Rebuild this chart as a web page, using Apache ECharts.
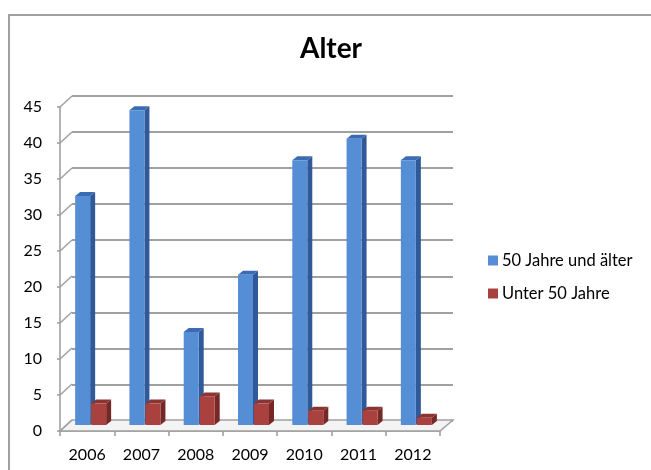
<!DOCTYPE html>
<html lang="de">
<head>
<meta charset="UTF-8">
<title>Alter</title>
<script src="https://cdn.jsdelivr.net/npm/echarts@6/dist/echarts.min.js"></script>
<style>
  html, body { margin: 0; padding: 0; background: #fff; }
  #chart { width: 651px; height: 470px; }
</style>
</head>
<body>
<div id="chart"></div>
<script>
// Daten
var jahre = ['2006', '2007', '2008', '2009', '2010', '2011', '2012'];
var ab50 = [32, 44, 13, 21, 37, 40, 37];      // 50 Jahre und älter
var unter50 = [3, 3, 4, 3, 2, 2, 1];          // Unter 50 Jahre
var yTicks = [0, 5, 10, 15, 20, 25, 30, 35, 40, 45];

var FONT = 'Lato, "Open Sans", sans-serif';
var DX = 12, DY = -11;   // Versatz Rückwand

// 3D-Säule: Vorderseite, Seite, Deckel
function saeule(off, farben) {
    return function (params, api) {
        var c = api.value(0), v = api.value(1);
        var unten = api.coord([c, 0]);
        var oben = api.coord([c, v]);
        var x0 = unten[0] + off, x1 = x0 + 15;
        var yb = unten[1], yt = oben[1];
        var d = 5, h = 4;
        return {
            type: 'group',
            children: [
                { type: 'polygon', shape: { points: [[x1, yt], [x1 + d, yt - h], [x1 + d, yb - h], [x1, yb]] },
                  style: { fill: farben[1] } },
                { type: 'polygon', shape: { points: [[x0, yt], [x1, yt], [x1 + d, yt - h], [x0 + d, yt - h]] },
                  style: { fill: farben[2] } },
                { type: 'rect', shape: { x: x0, y: yt, width: x1 - x0, height: yb - yt },
                  style: { fill: farben[0] } }
            ]
        };
    };
}

var chart = echarts.init(document.getElementById('chart'));
chart.setOption({
    backgroundColor: '#fff',
    animation: false,
    title: {
        text: 'Alter', left: 326, top: 30, textAlign: 'center',
        textStyle: { fontFamily: FONT, fontSize: 28, fontWeight: 'bold', color: '#000' }
    },
    legend: {
        orient: 'vertical', left: 483, top: 247, itemWidth: 10, itemHeight: 10, itemGap: 16,
        icon: 'rect',
        textStyle: { fontFamily: FONT, fontSize: 16.5, color: '#000', padding: [0, 0, 0, -1] },
        data: ['50 Jahre und älter', 'Unter 50 Jahre']
    },
    graphic: [{
        type: 'polyline', silent: true,
        shape: { points: [[9, 480], [9, 15], [660, 15]] },
        style: { stroke: '#a0a0a0', lineWidth: 2, fill: null }
    }],
    grid: [
        { left: 60, top: 107, width: 380, height: 324 },        // vorne (Achsen)
        { left: 72, top: 96, width: 381, height: 324.5 },       // Rückwand
        { left: 60, top: 103, width: 380, height: 322 }         // Säulen
    ],
    xAxis: [
        { gridIndex: 0, type: 'category', data: jahre, boundaryGap: true,
          axisLine: { lineStyle: { color: '#9a9a9a', width: 1.5 } },
          axisTick: { show: true, length: 5, lineStyle: { color: '#9a9a9a', width: 1.5 } },
          axisLabel: { margin: 16, fontFamily: FONT, fontSize: 16, color: '#000' } },
        { gridIndex: 1, type: 'category', data: jahre, show: false },
        { gridIndex: 2, type: 'category', data: jahre, show: false }
    ],
    yAxis: [
        { gridIndex: 0, type: 'value', min: 0, max: 45, interval: 5,
          axisLine: { show: true, lineStyle: { color: '#9a9a9a', width: 1.5 } },
          axisTick: { show: true, length: 3, lineStyle: { color: '#9a9a9a', width: 1.5 } },
          splitLine: { show: false },
          axisLabel: { margin: 18, fontFamily: FONT, fontSize: 16, color: '#000' } },
        { gridIndex: 1, type: 'value', min: 0, max: 45, interval: 5,
          axisLine: { show: false }, axisTick: { show: false }, axisLabel: { show: false },
          splitLine: { lineStyle: { color: '#a0a0a0', width: 2 } } },
        { gridIndex: 2, type: 'value', min: 0, max: 45, show: false, splitLine: { show: false } }
    ],
    series: [
        {   // Boden
            type: 'custom', xAxisIndex: 0, yAxisIndex: 0, silent: true, clip: false, z: 1,
            data: [[0, 0]],
            renderItem: function (params, api) {
                var w = api.size([1, 0])[0];
                var a = api.coord([0, 0]), b = api.coord([jahre.length - 1, 0]);
                var xl = a[0] - w / 2, xr = b[0] + w / 2, y = a[1];
                return { type: 'polygon',
                    shape: { points: [[xl, y], [xr, y], [xr + DX + 1, y + DY], [xl + DX, y + DY]] },
                    style: { fill: '#f3f3f3', stroke: '#a0a0a0', lineWidth: 1.5 } };
            }
        },
        {   // Verbindung Achse -> Rückwand
            type: 'custom', xAxisIndex: 0, yAxisIndex: 0, silent: true, clip: false, z: 1,
            data: yTicks.map(function (t) { return [0, t]; }),
            renderItem: function (params, api) {
                var w = api.size([1, 0])[0];
                var p = api.coord([0, api.value(1)]);
                var x = p[0] - w / 2;
                return { type: 'line', shape: { x1: x, y1: p[1], x2: x + DX, y2: p[1] + DY },
                         style: { stroke: '#a0a0a0', lineWidth: 1.5 } };
            }
        },
        {
            name: '50 Jahre und älter', type: 'custom', xAxisIndex: 2, yAxisIndex: 2, clip: false, z: 3,
            itemStyle: { color: '#558ed5' },
            data: ab50.map(function (v, i) { return [i, v]; }),
            renderItem: saeule(-12, ['#558ed5', '#30599a', '#3b6cb3'])
        },
        {
            name: 'Unter 50 Jahre', type: 'custom', xAxisIndex: 2, yAxisIndex: 2, clip: false, z: 4,
            itemStyle: { color: '#a9423f' },
            data: unter50.map(function (v, i) { return [i, v]; }),
            renderItem: saeule(4, ['#a9423f', '#762826', '#8c3432'])
        }
    ]
});
</script>
</body>
</html>
